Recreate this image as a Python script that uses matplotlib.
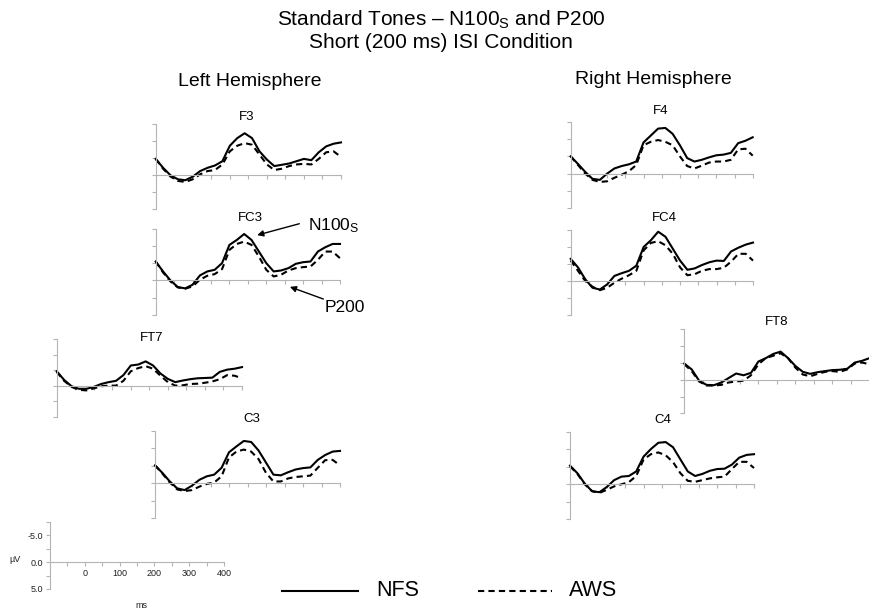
import matplotlib
matplotlib.use('Agg')
import matplotlib.pyplot as plt
import numpy as np

plt.rcParams['font.family'] = ['Liberation Sans', 'DejaVu Sans']
plt.rcParams['mathtext.fontset'] = 'custom'
plt.rcParams['mathtext.rm'] = 'Liberation Sans'
plt.rcParams['mathtext.it'] = 'Liberation Sans'
plt.rcParams['mathtext.default'] = 'regular'

# sample times (ms) shared by all waveforms
time_ms = [-100, -80, -60, -40, -20, 0, 20, 40, 60, 80, 100, 120, 140, 160,
           180, 200, 220, 240, 260, 280, 300, 320, 340, 360, 380, 400]

# amplitudes in microvolts (negative plotted up)
f3_nfs = [-2.37, -1.06, 0.05, 0.63, 0.77, 0.24, -0.58, -1.06, -1.40, -2.03, -4.30, -5.42, -6.14,
          -5.42, -3.48, -2.27, -1.31, -1.50, -1.69, -2.03, -2.37, -2.18, -3.34, -4.21, -4.60, -4.79]
f3_aws = [-2.37, -0.92, 0.24, 0.87, 1.02, 0.63, -0.10, -0.58, -0.73, -1.55, -3.48, -4.30, -4.69,
          -4.45, -3.00, -1.55, -0.73, -0.92, -1.31, -1.55, -1.64, -1.55, -2.37, -3.34, -3.48, -2.66]
fc3_nfs = [-2.76, -1.31, 0.00, 0.97, 1.16, 0.63, -0.73, -1.31, -1.55, -2.52, -5.18, -5.90, -6.77,
           -5.90, -4.21, -2.52, -1.31, -1.45, -1.79, -2.42, -2.66, -2.76, -4.21, -4.84, -5.32, -5.32]
fc3_aws = [-2.76, -1.16, 0.15, 1.02, 1.21, 0.87, -0.10, -0.68, -0.92, -1.64, -4.45, -5.32, -5.66,
           -5.18, -3.48, -1.55, -0.58, -0.82, -1.45, -1.79, -1.94, -2.03, -3.00, -4.21, -4.21, -3.24]
ft7_nfs = [-2.31, -0.92, 0.10, 0.51, 0.51, 0.21, -0.26, -0.56, -0.77, -1.69, -3.24, -3.39, -3.90,
           -3.24, -1.95, -1.08, -0.56, -0.82, -1.03, -1.18, -1.23, -1.28, -2.21, -2.57, -2.72, -2.98]
ft7_aws = [-2.21, -0.77, 0.21, 0.67, 0.77, 0.46, 0.10, 0.00, 0.00, -0.77, -2.31, -2.82, -3.13,
           -2.72, -1.59, -0.56, 0.00, -0.05, -0.26, -0.31, -0.46, -0.67, -1.03, -1.69, -1.59, -1.18]
c3_nfs = [-2.57, -1.48, -0.25, 0.74, 0.99, 0.35, -0.49, -0.99, -1.23, -2.22, -4.44, -5.28, -6.07,
          -5.92, -4.69, -2.96, -1.23, -1.13, -1.58, -1.97, -2.17, -2.27, -3.35, -4.05, -4.54, -4.64]
c3_aws = [-2.57, -1.38, -0.10, 0.89, 1.13, 0.99, 0.49, 0.10, -0.10, -0.99, -3.70, -4.54, -4.83,
          -4.54, -3.45, -1.48, -0.25, -0.25, -0.69, -0.89, -0.99, -1.09, -2.22, -3.31, -3.35, -2.57]
f4_nfs = [-2.50, -1.40, -0.25, 0.75, 0.90, 0.00, -0.75, -1.10, -1.35, -1.75, -4.50, -5.50, -6.50,
          -6.60, -5.75, -4.10, -2.25, -1.75, -2.00, -2.35, -2.65, -2.75, -3.00, -4.40, -4.75, -5.25]
f4_aws = [-2.50, -1.25, 0.00, 0.90, 1.20, 1.10, 0.60, 0.15, -0.35, -1.25, -4.10, -4.60, -4.85,
          -4.60, -4.10, -2.50, -1.10, -0.75, -1.15, -1.60, -1.75, -1.75, -2.00, -3.50, -3.60, -2.60]
fc4_nfs = [-3.25, -2.00, -0.25, 1.00, 1.25, 0.50, -0.75, -1.15, -1.50, -2.25, -5.00, -6.00, -7.25,
           -6.50, -4.75, -3.00, -1.65, -1.85, -2.35, -2.75, -3.00, -2.95, -4.35, -4.90, -5.35, -5.65]
fc4_aws = [-3.00, -1.50, 0.00, 0.85, 1.35, 1.00, 0.25, -0.35, -0.85, -1.50, -4.50, -5.60, -5.85,
           -5.25, -4.00, -2.00, -0.85, -1.00, -1.50, -1.75, -1.75, -1.95, -2.85, -4.00, -4.00, -3.00]
ft8_nfs = [-2.40, -1.53, 0.15, 0.77, 0.82, 0.41, -0.26, -0.92, -0.66, -1.02, -2.70, -3.21, -3.83,
           -4.18, -3.21, -2.04, -1.17, -0.87, -1.12, -1.28, -1.43, -1.48, -1.63, -2.55, -2.81, -3.21]
ft8_aws = [-2.30, -1.28, 0.26, 0.87, 0.87, 0.77, 0.41, 0.26, 0.15, -0.66, -2.30, -3.21, -3.57,
           -3.93, -3.21, -1.79, -0.77, -0.51, -0.87, -1.17, -1.28, -1.17, -1.53, -2.40, -2.55, -2.30]
c4_nfs = [-2.66, -1.58, -0.10, 0.99, 1.13, 0.39, -0.59, -1.09, -1.18, -1.83, -3.95, -5.03, -5.92,
          -6.02, -5.28, -3.55, -1.83, -1.18, -1.48, -1.92, -2.17, -2.22, -2.81, -3.80, -4.19, -4.29]
c4_aws = [-2.57, -1.48, 0.00, 0.99, 1.23, 0.79, 0.30, 0.00, -0.30, -1.18, -3.55, -4.29, -4.54,
          -4.14, -3.16, -1.58, -0.49, -0.35, -0.59, -0.84, -0.99, -1.09, -2.17, -3.20, -3.20, -2.32]

W, H = 869, 612
GRAY = '#b4b4b4'


def rect(left, top, right, bottom):
    return [left / W, 1 - bottom / H, (right - left) / W, (bottom - top) / H]


def fx(x):
    return x / W


def fy(y):
    return 1 - y / H


def erp_axes(fig, box, labels=False):
    ax = fig.add_axes(rect(*box))
    ax.set_xlim(-100, 400)
    ax.set_ylim(5, -7.5)
    ax.patch.set_visible(False)
    for s in ('top', 'right'):
        ax.spines[s].set_visible(False)
    ax.spines['bottom'].set_position(('data', 0))
    for s in ('left', 'bottom'):
        ax.spines[s].set_color(GRAY)
        ax.spines[s].set_linewidth(0.8)
    ax.tick_params(colors=GRAY, direction='out', length=3, width=0.8, which='both')
    if labels:
        ax.set_xticks([0, 100, 200, 300, 400])
        ax.set_xticks([-50, 50, 150, 250, 350], minor=True)
        ax.set_yticks([-5, 0, 5])
        ax.set_yticklabels(['-5.0', '0.0', '5.0'])
        ax.set_yticks([-7.5, -2.5, 2.5], minor=True)
        ax.tick_params(labelcolor='#222222', labelsize=6.5, pad=2)
    else:
        ax.set_xticks(np.arange(-50, 401, 50))
        ax.set_yticks([-7.5, -5, -2.5, 0, 2.5, 5])
        ax.set_xticklabels([])
        ax.set_yticklabels([])
    return ax


fig = plt.figure(figsize=(W / 100, H / 100), dpi=100)

fig.text(fx(441), fy(20), r'Standard Tones – N100$_{S}$ and P200', ha='center', va='center', fontsize=15)
fig.text(fx(441), fy(42), 'Short (200 ms) ISI Condition', ha='center', va='center', fontsize=15)
fig.text(fx(250), fy(82), 'Left Hemisphere', ha='center', va='center', fontsize=14)
fig.text(fx(653), fy(80), 'Right Hemisphere', ha='center', va='center', fontsize=14)

panels = [
    ('F3', (155.7, 124, 341, 209), (247, 117), f3_nfs, f3_aws),
    ('FC3', (155.7, 229, 340, 314.7), (250, 218), fc3_nfs, fc3_aws),
    ('FT7', (56.7, 339, 242, 416.7), (152, 338), ft7_nfs, ft7_aws),
    ('C3', (155, 431, 340, 518), (252, 419), c3_nfs, c3_aws),
    ('F4', (570.7, 121.7, 752.7, 208.3), (661, 111), f4_nfs, f4_aws),
    ('FC4', (570.7, 230, 753, 315), (664, 218), fc4_nfs, fc4_aws),
    ('FT8', (684.3, 329.3, 869.5, 413.3), (777, 322), ft8_nfs, ft8_aws),
    ('C4', (570, 431.7, 754, 519.3), (663, 420), c4_nfs, c4_aws),
]

axes = {}
for name, box, lab, nfs, aws in panels:
    ax = erp_axes(fig, box)
    ax.plot(time_ms, nfs, color='black', lw=1.5, clip_on=False)
    ax.plot(time_ms, aws, color='black', lw=1.5, ls=(0, (3, 2)), clip_on=False)
    fig.text(fx(lab[0]), fy(lab[1]), name, ha='center', va='center', fontsize=9.5)
    axes[name] = ax

# component markers on FC3
fig.text(fx(308), fy(226), r'N100$_{S}$', ha='left', va='center', fontsize=12.5)
fig.text(fx(325), fy(307), 'P200', ha='left', va='center', fontsize=12.5)
ax = axes['FC3']
ax.annotate('', xy=(168, -6.5), xytext=(fx(302), fy(223)), textcoords='figure fraction',
            arrowprops=dict(arrowstyle='-|>', color='black', lw=1, mutation_scale=9),
            annotation_clip=False)
ax.annotate('', xy=(257, 0.8), xytext=(fx(326), fy(300)), textcoords='figure fraction',
            arrowprops=dict(arrowstyle='-|>', color='black', lw=1, mutation_scale=9),
            annotation_clip=False)

# calibration axes
sc = erp_axes(fig, (50, 521.7, 224, 589), labels=True)
fig.text(fx(15), fy(560), 'µV', ha='center', va='center', fontsize=6.5, color='#222222')
fig.text(fx(141), fy(605), 'ms', ha='center', va='center', fontsize=6.5, color='#222222')

# legend
fig.add_artist(plt.Line2D([fx(282), fx(358)], [fy(591), fy(591)], color='black', lw=1.5))
fig.text(fx(376), fy(591), 'NFS', ha='left', va='center', fontsize=15.5)
fig.add_artist(plt.Line2D([fx(478), fx(552)], [fy(591), fy(591)], color='black', lw=1.5,
                          ls=(0, (3, 2))))
fig.text(fx(569), fy(591), 'AWS', ha='left', va='center', fontsize=15.5)

fig.savefig('out.png', dpi=100)
